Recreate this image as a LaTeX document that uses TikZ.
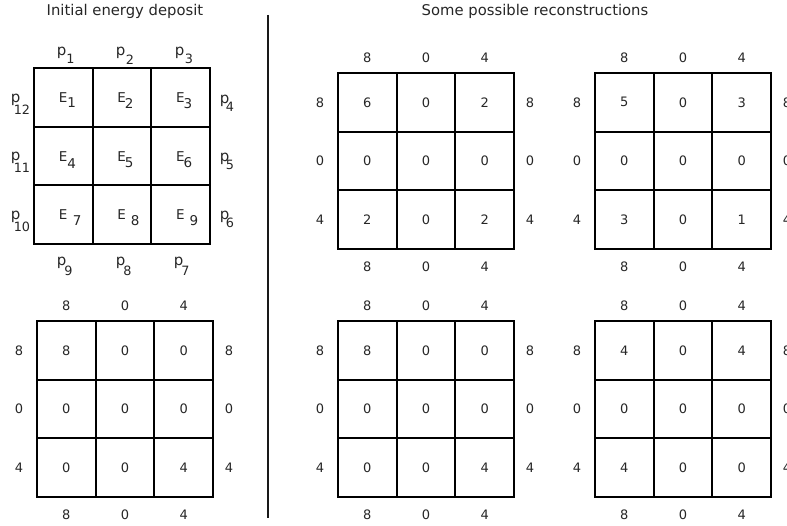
\documentclass[tikz,border=0pt]{standalone}
\usepackage{fontspec}
\setmainfont{DejaVu Sans}
\newcommand\psubl[3]{p\kern#2pt\raisebox{-#3pt}{\fontsize{12.8}{12.8}\selectfont #1}}
\newcommand\esubl[3]{E\kern#2pt\raisebox{-#3pt}{#1}}
\newcommand\mkgrid[4]{%
  \foreach \v [count=\k from 0] in {#4} {
    \pgfmathtruncatemacro\gr{int(\k/3)}
    \pgfmathtruncatemacro\gc{mod(\k,3)}
    \node[cellbox] (#1-\gr-\gc) at ({#2+29.35+\gc*58.7},{#3+29.35+\gr*58.7}) {\v};
  }
}
\newcommand\mksums[3]{%
  \foreach \s [count=\k from 0] in {8,0,4} {
    \node[sumlbl] (#1-top\k) at ({#2+29.35+\k*58.7},{#3-15}) {\s};
    \node[sumlbl] (#1-bot\k) at ({#2+29.35+\k*58.7},{#3+176.1+18}) {\s};
    \node[sumlbl] (#1-lft\k) at ({#2-18},{#3+29.35+\k*58.7}) {\s};
    \node[sumlbl] (#1-rgt\k) at ({#2+176.1+16},{#3+29.35+\k*58.7}) {\s};
  }
}
\begin{document}
\begin{tikzpicture}[x=1pt,y=-1pt,
  cellbox/.style={draw=black,line width=2pt,minimum size=58.7pt,inner sep=0pt,outer sep=0pt,
     font=\fontsize{13}{15}\selectfont,text=black!85},
  sumlbl/.style={inner sep=0pt,font=\fontsize{13}{15}\selectfont,text=black!85},
  plbl/.style={inner sep=0pt,anchor=base west,font=\fontsize{15}{18}\selectfont,text=black!85},
  elbl/.style={inner sep=0pt,anchor=base west,font=\fontsize{13.5}{16}\selectfont,text=black!85},
  ttl/.style={inner sep=0pt,anchor=base,font=\fontsize{14.8}{18}\selectfont,text=black!85}]
\useasboundingbox (0,0) rectangle (787,526);
% titles
\node[ttl] (t1) at (125,16) {Initial energy deposit};
\node[ttl] (t2) at (535,16) {Some possible reconstructions};
% separator
\coordinate (sepT) at (268,15);
\coordinate (sepB) at (268,518);
\draw[line width=2pt,black!90] (sepT) -- (sepB);
% grid 1 (initial energy deposit)
\mkgrid{g}{34}{68}{{},{},{},{},{},{},{},{},{}}
\node[elbl] (E1) at (58.7,103) {\esubl{1}{0}{5}};
\node[elbl] (E2) at (117.2,103) {\esubl{2}{-1}{6}};
\node[elbl] (E3) at (175.9,103) {\esubl{3}{-1}{6}};
\node[elbl] (E4) at (58.7,162) {\esubl{4}{0}{7}};
\node[elbl] (E5) at (117.2,162) {\esubl{5}{-1}{6}};
\node[elbl] (E6) at (175.9,162) {\esubl{6}{-1}{6}};
\node[elbl] (E7) at (58.7,220) {\esubl{7}{5.5}{6}};
\node[elbl] (E8) at (117.2,220) {\esubl{8}{5}{6}};
\node[elbl] (E9) at (175.9,220) {\esubl{9}{5}{6}};
% projections
\node[plbl] (p1) at (56.6,56) {\psubl{1}{0}{8}};
\node[plbl] (p2) at (115.6,56) {\psubl{2}{0.5}{9}};
\node[plbl] (p3) at (174.6,56) {\psubl{3}{0.5}{8}};
\node[plbl] (p4) at (219.6,104) {\psubl{4}{-3.5}{8}};
\node[plbl] (p5) at (219.6,162) {\psubl{5}{-3.5}{8}};
\node[plbl] (p6) at (219.6,220) {\psubl{6}{-3.5}{8}};
\node[plbl] (p7) at (173.6,266) {\psubl{7}{-2}{10}};
\node[plbl] (p8) at (115.6,266) {\psubl{8}{-2}{10}};
\node[plbl] (p9) at (56.6,266) {\psubl{9}{-2}{10}};
\node[plbl] (p10) at (10.6,220) {\psubl{10}{-6.5}{12}};
\node[plbl] (p11) at (10.6,161) {\psubl{11}{-6.5}{12}};
\node[plbl] (p12) at (10.6,103) {\psubl{12}{-6.5}{12}};
% grid 2 (true values)
\mkgrid{a}{37}{321}{8,0,0,0,0,0,0,0,4}
\mksums{a}{37}{321}
% reconstructions
\mkgrid{b}{338}{73}{6,0,2,0,0,0,2,0,2}
\mksums{b}{338}{73}
\mkgrid{c}{595}{73}{5,0,3,0,0,0,3,0,1}
\mksums{c}{595}{73}
\mkgrid{d}{338}{321}{8,0,0,0,0,0,0,0,4}
\mksums{d}{338}{321}
\mkgrid{e}{595}{321}{4,0,4,0,0,0,4,0,0}
\mksums{e}{595}{321}
\end{tikzpicture}
\end{document}
